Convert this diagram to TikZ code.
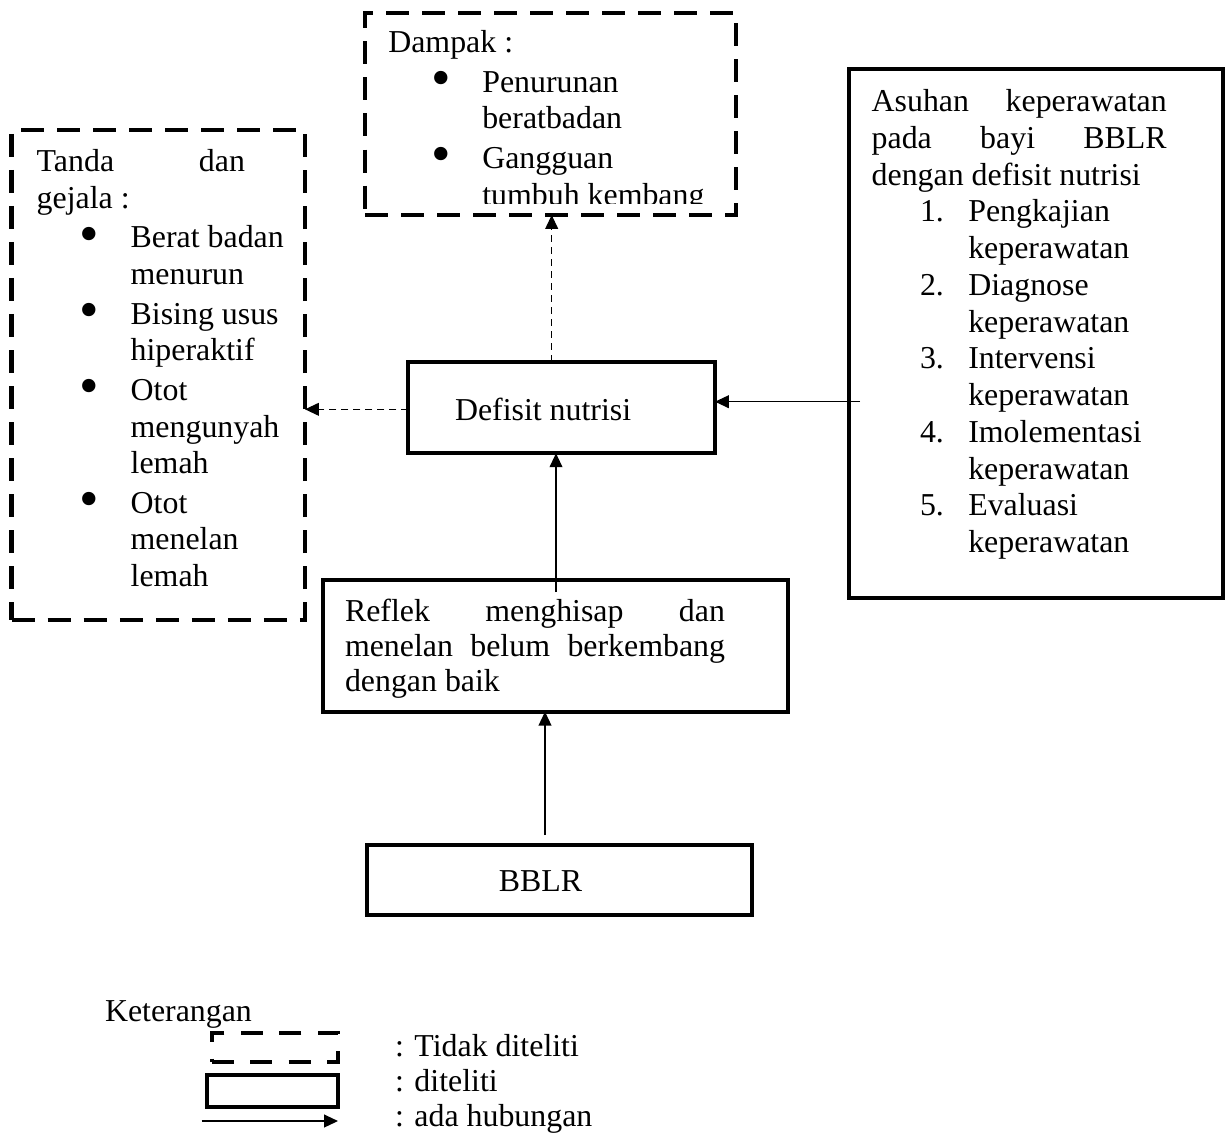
\documentclass[tikz,border=0pt]{standalone}
\usepackage{fontspec}
\setmainfont{Liberation Serif}
\usetikzlibrary{arrows.meta,fit}
\newdimen\pxu \pxu=0.3765pt
\newcommand\mainfs{\fontsize{12}{13.84}\selectfont}
\newcommand\bul{\makebox[0pt][c]{\raisebox{-1.7pt}{\fontsize{21}{21}\selectfont\char"2022}}}
\newcommand\bitem[1]{\hspace*{52.5\pxu}\bul\hspace*{41.5\pxu}#1}
\newcommand\bcont[1]{\hspace*{94\pxu}#1}
\newcommand\nitem[2]{\hspace*{48.3\pxu}\makebox[48.3\pxu][l]{#1}#2}
\newcommand\ncont[1]{\hspace*{96.6\pxu}#1}
\newcommand\jline[2]{\makebox[#1][l]{#2}}
\tikzset{
  solidbox/.style={draw, line width=1.5pt, rectangle, inner sep=0pt, outer sep=0pt},
  dashbox/.style={draw, line width=1.69pt, dash pattern=on 8.66pt off 4.9pt, rectangle, inner sep=0pt, outer sep=0pt},
  legdash/.style={draw, line width=1.5pt, dash pattern=on 8.3pt off 6.2pt, rectangle, inner sep=0pt, outer sep=0pt},
  arr/.style={line width=0.5pt, -{Triangle[length=5.2pt,width=4.8pt]}},
  darr/.style={arr, dash pattern=on 2.64pt off 1.88pt},
  txt/.style={inner sep=0pt, outer sep=0pt, font=\mainfs},
}
\begin{document}
\begin{tikzpicture}[x=0.3765pt,y=-0.3765pt]
\useasboundingbox[fill=white] (0,0) rectangle (1228,1137);

% boxes
\node[dashbox, fit={(365,13) (736,215)}] (dampak) {};
\node[dashbox, fit={(11.7,130) (305,620)}] (tanda) {};
\node[solidbox, fit={(848.5,68.5) (1223,597.5)}] (asuhan) {};
\node[solidbox, fit={(408.3,361.7) (715,453.3)}] (defisit) {};
\node[solidbox, fit={(323.3,580) (788,711.7)}] (reflek) {};
\node[solidbox, fit={(366.7,845) (751.7,915)}] (bblr) {};

% texts
\begin{scope}
\clip (360,0) rectangle (740,203);
\node[txt, anchor=base west] (dampaktxt) at (388.3,52.7) {\parbox[t]{600\pxu}{\raggedright\mainfs
Dampak :\\[1pt]
\bitem{Penurunan}\\
\bcont{beratbadan}\\[1pt]
\bitem{Gangguan}\\
\bcont{tumbuh kembang}}};
\end{scope}

\node[txt, anchor=base west] (tandatxt) at (36.7,171.7) {\parbox[t]{600\pxu}{\raggedright\mainfs
\jline{208.3\pxu}{Tanda\hfill dan}\\
gejala :\\[1pt]
\bitem{Berat badan}\\
\bcont{menurun}\\[1pt]
\bitem{Bising usus}\\
\bcont{hiperaktif}\\[1pt]
\bitem{Otot}\\
\bcont{mengunyah}\\
\bcont{lemah}\\[1pt]
\bitem{Otot}\\
\bcont{menelan}\\
\bcont{lemah}}};

\node[txt, anchor=base west] (asuhantxt) at (871.7,111.5) {\parbox[t]{600\pxu}{\raggedright\mainfs
\jline{295\pxu}{Asuhan\hfill keperawatan}\\
\jline{295\pxu}{pada\hfill bayi\hfill BBLR}\\
dengan defisit nutrisi\\
\nitem{1.}{Pengkajian}\\
\ncont{keperawatan}\\
\nitem{2.}{Diagnose}\\
\ncont{keperawatan}\\
\nitem{3.}{Intervensi}\\
\ncont{keperawatan}\\
\nitem{4.}{Imolementasi}\\
\ncont{keperawatan}\\
\nitem{5.}{Evaluasi}\\
\ncont{keperawatan}}};

\node[txt, anchor=base west] (defisittxt) at (455,420) {Defisit nutrisi};

\node[txt, anchor=base west] (reflektxt) at (345,621.7) {\parbox[t]{600\pxu}{\raggedright\fontsize{12}{13.2}\selectfont
\jline{380\pxu}{Reflek\hfill menghisap\hfill dan}\\
\jline{380\pxu}{menelan\hfill belum\hfill berkembang}\\
dengan baik}};

\node[txt, anchor=base] (bblrtxt) at (540.5,891.7) {BBLR};

% connectors
\coordinate (cbb) at (545,835);
\draw[arr] (cbb) -- (cbb |- reflek.south);
\coordinate (crf) at (556,592);
\draw[arr] (crf) -- (crf |- defisit.south);
\coordinate (cdf) at (551.7,0);
\draw[darr] (cdf |- defisit.north) -- (cdf |- dampak.south);
\coordinate (clt) at (0,409.3);
\draw[darr] (clt -| defisit.west) -- (clt -| tanda.east);
\coordinate (cas) at (860,401.7);
\draw[arr] (cas) -- (cas -| defisit.east);

% legend
\node[txt, anchor=base west] (ket) at (105,1021.7) {Keterangan};
\node[legdash, fit={(211.7,1032.7) (338.3,1061.7)}] (legd) {};
\node[solidbox, fit={(206.7,1075) (338.3,1106.7)}] (legs) {};
\coordinate (la) at (201.7,1121);
\coordinate (lb) at (338,1121);
\draw[arr] (la) -- (lb);
\node[txt, anchor=base west] (lt1) at (395,1056.7) {: Tidak diteliti};
\node[txt, anchor=base west] (lt2) at (395,1091.7) {: diteliti};
\node[txt, anchor=base west] (lt3) at (395,1126.7) {: ada hubungan};
\end{tikzpicture}
\end{document}
